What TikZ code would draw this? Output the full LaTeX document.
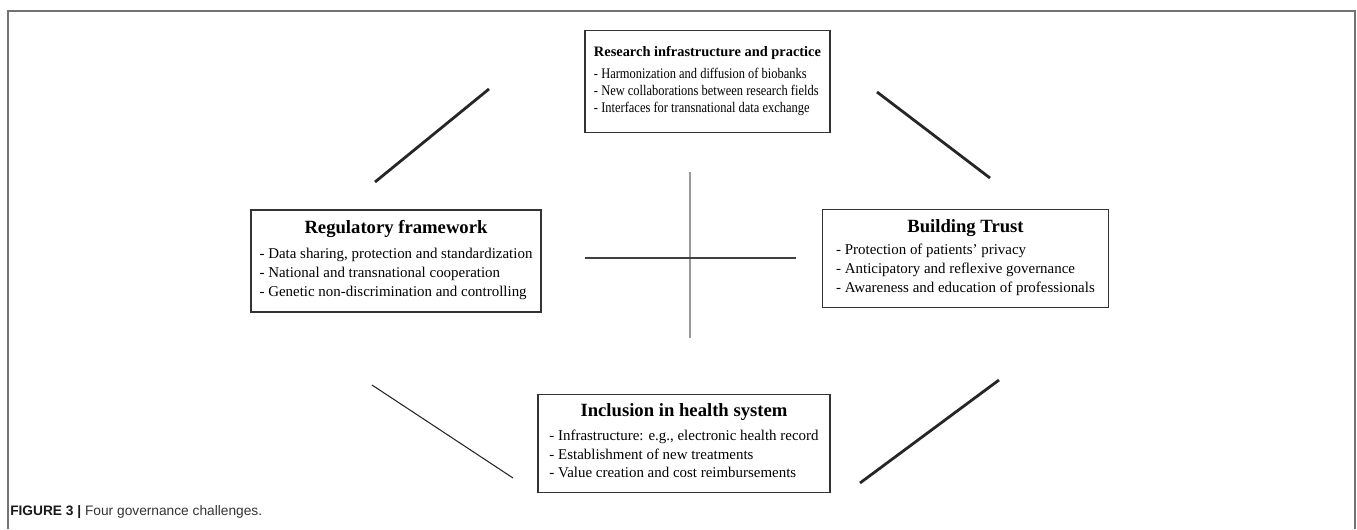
\documentclass[tikz,border=0pt]{standalone}
\usepackage{fontspec}
\setmainfont{Liberation Serif}
\newfontfamily\narrowfont{Liberation Serif}[FakeStretch=0.85]
\newfontfamily\capfont{Liberation Sans}
\usetikzlibrary{positioning}
\tikzstyle{challenge}=[rectangle,draw=black!80,line width=0.9pt,inner sep=0pt,
  font=\fontsize{11.2}{14}\selectfont]
\tikzstyle{thick link}=[line width=2.1pt,draw=black!85]
\tikzstyle{thin link}=[line width=0.8pt,draw=black!85]
\newcommand{\boxtitle}[1]{\multicolumn{1}{@{}c@{}}{\bfseries\fontsize{14}{14}\selectfont #1}}

\begin{document}
\begin{tikzpicture}[x=0.75pt,y=-0.75pt]
  \tikzstyle{frame}=[line width=1.6pt,draw=black!55]
  \tikzstyle{cross}=[line width=0.8pt]
  \useasboundingbox (0,0) rectangle (1357,529);
  \draw[frame] (8,529) -- (8,11) -- (1355,11) -- (1355,529);

  % the four challenges
  \node[challenge,minimum width=183.75pt,minimum height=77pt,
        font=\narrowfont\fontsize{11}{13}\selectfont] (research) at (707.5,81.5)
    {\begin{tabular}{@{}l@{}}\multicolumn{1}{@{}c@{}}{\rmfamily\bfseries\fontsize{10.8}{13}\selectfont
       Research infrastructure and practice}\\[3pt]
     - Harmonization and diffusion of biobanks\\
     - New collaborations between research fields\\
     - Interfaces for transnational data exchange\end{tabular}};
  \node[challenge,minimum width=217.5pt,minimum height=76.5pt] (regulatory) at (396,261)
    {\begin{tabular}{@{}l@{}}\boxtitle{Regulatory framework}\\[5pt]
     - Data sharing, protection and standardization\\
     - National and transnational cooperation\\
     - Genetic non-discrimination and controlling\end{tabular}};
  \node[challenge,minimum width=215pt,minimum height=73pt] (trust) at (965.5,258.5)
    {\begin{tabular}{@{}l@{}}\boxtitle{Building Trust}\\[3pt]
     - Protection of patients' privacy\\
     - Anticipatory and reflexive governance\\
     - Awareness and education of professionals\end{tabular}};
  \node[challenge,minimum width=219pt,minimum height=73pt] (inclusion) at (684,443.5)
    {\begin{tabular}{@{}l@{}}\boxtitle{Inclusion in health system}\\[4pt]
     - Infrastructure: e.g., electronic health record\\
     - Establishment of new treatments\\
     - Value creation and cost reimbursements\end{tabular}};

  % links between the boxes
  \coordinate (tl1) at (375,182); \coordinate (tl2) at (489,89);
  \coordinate (tr1) at (877,92);  \coordinate (tr2) at (990,178);
  \coordinate (bl1) at (372,385); \coordinate (bl2) at (513,478);
  \coordinate (br1) at (999,380); \coordinate (br2) at (860,483);
  \path[thick link] (tl1) edge (tl2);
  \path[thick link] (tr1) edge (tr2);
  \path[thin link] (bl1) edge (bl2);
  \path[thick link] (br1) edge (br2);

  % cross in the middle
  \coordinate (vtop) at (690,172); \coordinate (vbot) at (690,338);
  \coordinate (hleft) at (585,258); \coordinate (hright) at (796,258);
  \path[cross,draw=black!40] (vtop) edge (vbot);
  \path[cross,draw=black!75] (hleft) edge (hright);

  \node[anchor=west,inner sep=0pt,text=black!80,font=\capfont\fontsize{10.3}{12}\selectfont]
    (caption) at (10,512) {\textcolor{black!90}{\textbf{FIGURE 3 |}} Four governance challenges.};
\end{tikzpicture}
\end{document}
